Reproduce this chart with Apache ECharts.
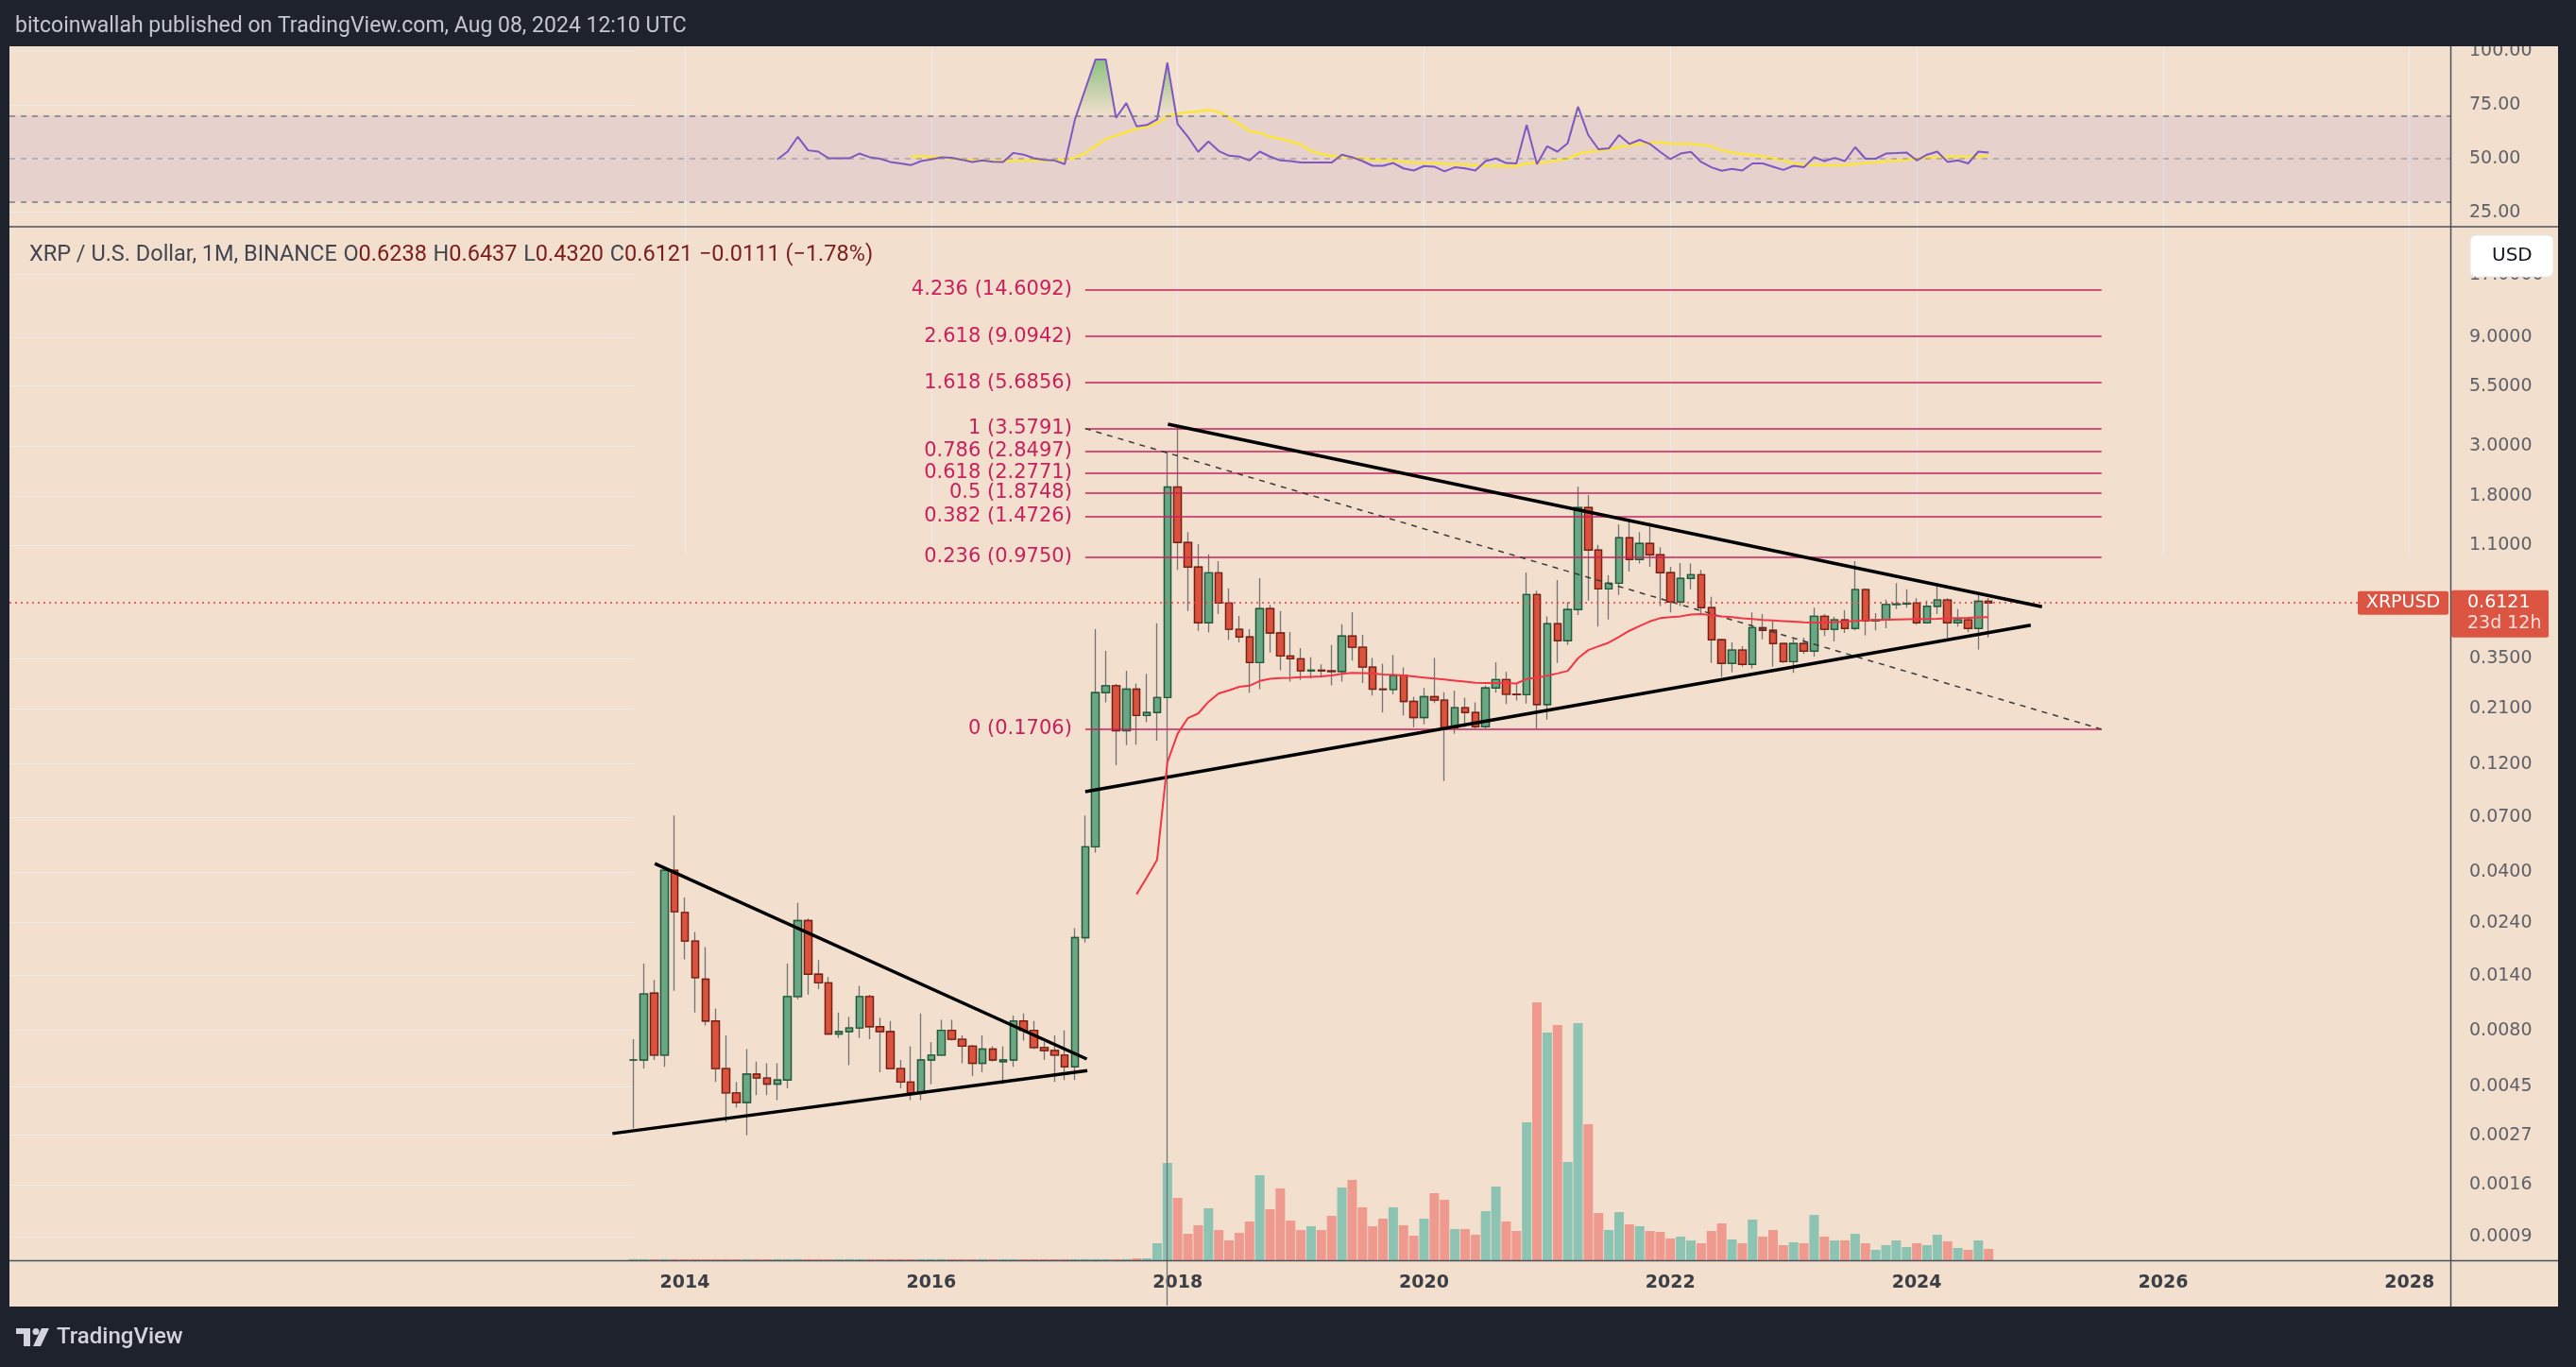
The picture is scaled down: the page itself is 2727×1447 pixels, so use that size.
<!DOCTYPE html>
<html>
<head>
<meta charset="utf-8">
<title>XRP / U.S. Dollar, 1M, BINANCE</title>
<script src="https://cdn.jsdelivr.net/npm/echarts@6/dist/echarts.min.js"></script>
<style>
  html, body { margin: 0; padding: 0; background: #1e222d; }
  #chart { width: 2727px; height: 1447px; }
</style>
</head>
<body>
<div id="chart"></div>
<script>
// XRPUSD monthly candles, Aug 2013 .. Aug 2024
const N13 = Array(5).fill(null);
const N12 = Array(12).fill(null);

const open = [
  0.0059, 0.0059, 0.0117, 0.0062, 0.0408,
  0.0266, 0.0199, 0.0135, 0.0088, 0.0054, 0.0042, 0.0038, 0.0051, 0.0049, 0.0046, 0.0048, 0.0113,
  0.0245, 0.0142, 0.0130, 0.0077, 0.0079, 0.0082, 0.0113, 0.0083, 0.0079, 0.0054, 0.0047, 0.0042,
  0.0059, 0.0062, 0.0080, 0.0073, 0.0068, 0.0057, 0.0066, 0.0058, 0.0059, 0.0088, 0.0080, 0.0067,
  0.0065, 0.0062, 0.0055, 0.0206, 0.0518, 0.247, 0.265, 0.168, 0.256, 0.196, 0.202, 0.235,
  1.98, 1.129, 0.881, 0.501, 0.831, 0.612, 0.469, 0.434, 0.335, 0.578, 0.452, 0.358,
  0.348, 0.308, 0.310, 0.308, 0.306, 0.438, 0.391, 0.320, 0.256, 0.255, 0.294, 0.226,
  0.192, 0.237, 0.229, 0.173, 0.212, 0.202, 0.175, 0.259, 0.282, 0.243, 0.242, 0.667,
  0.219, 0.496, 0.418, 0.573, 1.608, 1.046, 0.706, 0.748, 1.184, 0.951, 1.118, 0.997,
  0.832, 0.618, 0.785, 0.815, 0.584, 0.422, 0.332, 0.380, 0.329, 0.477, 0.464, 0.406,
  0.338, 0.406, 0.376, 0.535, 0.469, 0.516, 0.473, 0.701, 0.511, 0.516, 0.603, 0.606,
  0.612, 0.501, 0.592, 0.631, 0.501, 0.516, 0.473, 0.6238
];
const high = [
  0.0073, 0.0158, 0.0134, 0.0413, 0.0711,
  0.0310, 0.0218, 0.0187, 0.0100, 0.0076, 0.0047, 0.0066, 0.0058, 0.0057, 0.0057, 0.0158, 0.0293,
  0.0250, 0.0164, 0.0138, 0.0096, 0.0092, 0.0126, 0.0115, 0.0091, 0.0088, 0.0059, 0.0068, 0.0095,
  0.0071, 0.0089, 0.0089, 0.0076, 0.0069, 0.0076, 0.0068, 0.0068, 0.0093, 0.0095, 0.0088, 0.0071,
  0.0076, 0.0080, 0.0227, 0.0711, 0.470, 0.377, 0.270, 0.308, 0.271, 0.299, 0.499, 2.83,
  3.59, 1.254, 1.111, 1.003, 0.935, 0.711, 0.537, 0.470, 0.787, 0.601, 0.564, 0.456,
  0.388, 0.353, 0.329, 0.400, 0.494, 0.558, 0.444, 0.351, 0.331, 0.362, 0.319, 0.237,
  0.259, 0.351, 0.248, 0.252, 0.235, 0.224, 0.265, 0.336, 0.305, 0.272, 0.834, 0.693,
  0.535, 0.772, 0.618, 1.991, 1.826, 1.104, 0.811, 1.358, 1.434, 1.254, 1.380, 1.076,
  0.883, 0.918, 0.914, 0.856, 0.652, 0.427, 0.411, 0.395, 0.556, 0.547, 0.511, 0.408,
  0.431, 0.431, 0.584, 0.547, 0.532, 0.570, 0.935, 0.711, 0.553, 0.633, 0.748, 0.703,
  0.643, 0.627, 0.748, 0.643, 0.576, 0.532, 0.664, 0.6437
];
const low = [
  0.0029, 0.0054, 0.0059, 0.0055, 0.0120,
  0.0165, 0.0096, 0.0084, 0.0047, 0.0031, 0.0036, 0.0027, 0.0041, 0.0041, 0.0039, 0.0044, 0.0110,
  0.0115, 0.0122, 0.0077, 0.0074, 0.0056, 0.0074, 0.0073, 0.0052, 0.0054, 0.0044, 0.0039, 0.0039,
  0.0046, 0.0062, 0.0072, 0.0057, 0.0050, 0.0052, 0.0058, 0.0046, 0.0055, 0.0072, 0.0066, 0.0059,
  0.0047, 0.0048, 0.0048, 0.0196, 0.0488, 0.224, 0.1185, 0.145, 0.146, 0.183, 0.152, 0.0004,
  0.856, 0.565, 0.462, 0.455, 0.547, 0.422, 0.411, 0.247, 0.256, 0.371, 0.310, 0.276,
  0.281, 0.285, 0.290, 0.266, 0.276, 0.342, 0.272, 0.240, 0.202, 0.243, 0.196, 0.174,
  0.179, 0.222, 0.101, 0.163, 0.174, 0.172, 0.172, 0.247, 0.220, 0.228, 0.221, 0.171,
  0.188, 0.334, 0.400, 0.542, 0.628, 0.482, 0.518, 0.664, 0.842, 0.914, 0.883, 0.593,
  0.556, 0.593, 0.703, 0.547, 0.334, 0.290, 0.304, 0.322, 0.316, 0.424, 0.322, 0.334,
  0.302, 0.365, 0.356, 0.438, 0.415, 0.452, 0.464, 0.441, 0.464, 0.474, 0.576, 0.584,
  0.491, 0.499, 0.547, 0.431, 0.482, 0.456, 0.382, 0.4320
];
const close = [
  0.0059, 0.0116, 0.0062, 0.0408, 0.0268,
  0.0199, 0.0137, 0.0088, 0.0054, 0.0042, 0.0038, 0.0051, 0.0049, 0.0046, 0.0048, 0.0113, 0.0245,
  0.0142, 0.0130, 0.0077, 0.0079, 0.0082, 0.0113, 0.0083, 0.0079, 0.0054, 0.0047, 0.0042, 0.0059,
  0.0062, 0.0080, 0.0073, 0.0068, 0.0057, 0.0066, 0.0059, 0.0059, 0.0088, 0.0080, 0.0067, 0.0065,
  0.0062, 0.0055, 0.0206, 0.0518, 0.247, 0.265, 0.168, 0.256, 0.196, 0.202, 0.235, 1.98,
  1.129, 0.881, 0.501, 0.831, 0.612, 0.469, 0.434, 0.335, 0.578, 0.452, 0.358, 0.348,
  0.308, 0.310, 0.308, 0.306, 0.438, 0.391, 0.320, 0.256, 0.255, 0.294, 0.226, 0.192,
  0.237, 0.229, 0.173, 0.212, 0.202, 0.175, 0.259, 0.282, 0.243, 0.242, 0.667, 0.219,
  0.496, 0.418, 0.573, 1.608, 1.046, 0.706, 0.748, 1.184, 0.951, 1.118, 0.997, 0.832,
  0.618, 0.785, 0.815, 0.584, 0.422, 0.332, 0.380, 0.329, 0.477, 0.464, 0.406, 0.338,
  0.406, 0.376, 0.535, 0.469, 0.516, 0.473, 0.701, 0.511, 0.516, 0.603, 0.606, 0.610,
  0.501, 0.592, 0.631, 0.501, 0.516, 0.473, 0.6232, 0.6121
];
// volume overlay, relative units (1 unit = 1 px of pane height)
const volume = [
  1.2, 1.2, 1.2, 1.2, 1.2,
  1.2, 1.2, 1.2, 1.2, 1.2, 1.2, 1.2, 1.2, 1.2, 1.2, 1.2, 1.2,
  1.2, 1.2, 1.2, 1.2, 1.2, 1.2, 1.2, 1.2, 1.2, 1.2, 1.2, 1.2,
  1.2, 1.2, 1.2, 1.2, 1.2, 1.2, 1.2, 1.2, 1.2, 1.2, 1.2, 1.2,
  1.2, 1.2, 1.2, 1.2, 1.2, 1.2, 1.2, 1.2, 2, 2, 18, 103,
  66, 28, 37, 55, 32, 21, 29, 41, 90, 54, 76, 42,
  32, 36, 32, 47, 77, 85, 56, 36, 44, 56, 37, 26,
  44, 71, 64, 33, 33, 27, 52, 78, 41, 31, 146, 273,
  241, 249, 104, 251, 144, 50, 32, 51, 38, 36, 31, 30,
  23, 25, 21, 18, 31, 39, 22, 18, 43, 25, 32, 16,
  19, 18, 48, 25, 21, 21, 28, 18, 11, 16, 21, 14,
  18, 16, 27, 20, 13, 11, 21, 12
];
// red moving average on price
const ma = [
  ...N13, ...N12, ...N12, ...N12,
  null, null, null, null, null, null, null, null, 0.032, 0.038, 0.0455, 0.122,
  0.163, 0.191, 0.200, 0.225, 0.245, 0.253, 0.262, 0.265, 0.278, 0.284, 0.286, 0.287,
  0.289, 0.290, 0.291, 0.294, 0.299, 0.302, 0.301, 0.300, 0.297, 0.296, 0.294, 0.291,
  0.288, 0.285, 0.282, 0.279, 0.276, 0.273, 0.272, 0.272, 0.272, 0.271, 0.284, 0.287,
  0.293, 0.300, 0.308, 0.350, 0.380, 0.395, 0.410, 0.435, 0.462, 0.485, 0.508, 0.525,
  0.530, 0.535, 0.545, 0.547, 0.541, 0.534, 0.530, 0.524, 0.520, 0.516, 0.513, 0.510,
  0.507, 0.503, 0.502, 0.503, 0.505, 0.507, 0.511, 0.514, 0.516, 0.517, 0.518, 0.519,
  0.520, 0.521, 0.522, 0.524, 0.526, 0.527, 0.529, 0.530
];
const rsi = [
  ...N13,
  null, null, null, null, null, null, null, null, null, 49.6, 53.2, 60.1,
  53.8, 53.2, 50.1, 50.1, 50.1, 52.3, 50.6, 49.9, 48.4, 47.7, 46.9, 48.8,
  49.6, 50.6, 50.3, 49.4, 48.4, 49.1, 48.5, 48.4, 52.6, 51.8, 50.1, 49.4,
  49.1, 47.4, 68.2, 82.2, 96.1, 96.1, 68.9, 75.8, 65.0, 65.6, 68.2, 94.6,
  66.0, 60.1, 53.1, 57.9, 53.5, 51.3, 50.9, 49.1, 53.2, 50.9, 49.1, 48.8,
  48.1, 48.1, 48.1, 48.1, 51.8, 50.6, 48.8, 46.6, 46.6, 47.9, 45.4, 44.4,
  46.5, 46.2, 44.0, 45.9, 45.4, 44.4, 48.8, 50.0, 47.9, 47.7, 65.6, 47.4,
  55.7, 53.2, 57.2, 74.1, 60.9, 54.3, 54.7, 60.9, 56.8, 58.7, 56.8, 53.1,
  49.7, 52.3, 53.1, 48.4, 45.9, 44.3, 45.2, 44.4, 47.7, 47.7, 46.2, 44.7,
  46.6, 45.9, 50.6, 48.8, 50.3, 48.8, 55.3, 49.9, 49.9, 52.3, 52.5, 52.8,
  49.1, 51.8, 53.2, 48.4, 49.1, 47.7, 53.2, 52.8
];
const rsiMa = [
  ...N13, ...N12,
  null, null, null, null, null, null, null, null, null, null, 51.0, 51.0,
  50.8, 50.5, 50.0, 49.6, 49.1, 49.0, 48.8, 48.8, 49.0, 49.1, 49.1, 49.1,
  49.1, 49.6, 50.3, 52.5, 55.7, 59.1, 60.6, 62.3, 63.8, 64.8, 66.4, 69.7,
  70.9, 71.6, 71.9, 72.6, 71.7, 68.9, 66.0, 62.8, 61.9, 60.1, 59.1, 57.9,
  56.5, 53.5, 52.1, 51.2, 50.9, 50.4, 49.9, 49.4, 49.1, 49.0, 48.5, 48.1,
  47.9, 47.8, 47.5, 47.4, 47.2, 46.9, 46.6, 46.5, 46.5, 46.5, 47.7, 47.9,
  48.4, 49.1, 49.9, 52.1, 53.1, 53.5, 54.4, 55.3, 56.0, 56.8, 57.2, 57.6,
  56.9, 56.8, 56.8, 56.3, 55.7, 53.8, 52.8, 52.1, 51.6, 51.0, 50.1, 49.1,
  47.7, 47.2, 47.1, 46.9, 46.8, 46.8, 47.4, 47.9, 48.1, 48.7, 49.0, 49.4,
  50.0, 50.3, 50.6, 50.9, 50.9, 50.9, 51.0, 51.3
];

// axis ticks
const priceTicks = [0.0009, 0.0016, 0.0027, 0.0045, 0.008, 0.014, 0.024, 0.04, 0.07, 0.12,
  0.21, 0.35, 1.1, 1.8, 3.0, 5.5, 9.0, 17.0];
const rsiTicks = [25, 50, 75, 100];
const yearTicks = [2014, 2016, 2018, 2020, 2022, 2024, 2026, 2028];

// fibonacci retracement drawing
const fibLevels = [4.236, 2.618, 1.618, 1, 0.786, 0.618, 0.5, 0.382, 0.236, 0];
const fibPrices = [14.6092, 9.0942, 5.6856, 3.5791, 2.8497, 2.2771, 1.8748, 1.4726, 0.9750, 0.1706];
const fibSpan = [44, 143];            // month indices where the fib tool starts / ends

// hand-drawn trend lines: [monthIndex, price] pairs
const trendLines = [
  [[52.05, 3.742], [137.2, 0.5892]],
  [[44.0, 0.0906], [136.1, 0.4895]],
  [[2.07, 0.0437], [44.15, 0.00596]],
  [[-2.06, 0.00275], [44.2, 0.00529]]
];

const T = p => Math.log10(p + 0.0001);          // TradingView log price scale
const P = v => Math.pow(10, v) - 0.0001;
const monthIdx = (y, m) => (y - 2013) * 12 + (m - 8);

const BG = '#f2dfcd';
const GRID = 'rgba(236,236,240,0.75)';
const UP = '#6ba784', DN = '#d9533f';
const UP_B = '#1f5b3b', DN_B = '#7a1e12';
const WICK = '#737477';
const FIB = '#c9205e';
const TAG = '#dc5442';
const AXIS_TXT = '#5f6169';

// RSI pane geometry (px) used for the overbought gradient
const RSI_TOP = 49, RSI_H = 191, RSI_MIN = 18.26, RSI_MAX = 102.2;
const rsiY = v => RSI_TOP + (RSI_MAX - v) / (RSI_MAX - RSI_MIN) * RSI_H;

const n = close.length;
const candleFull = close.map((c, i) => [i, T(open[i]), T(c), T(low[i]), T(high[i])]);
const candleBody = close.map((c, i) => [i, T(open[i]), T(c), T(Math.min(open[i], c)), T(Math.max(open[i], c))]);
const volData = volume.map((v, i) => ({
  value: [i, v],
  itemStyle: { color: close[i] >= open[i] ? '#8dc3b3' : '#ef9a8e' }
}));
const pairs = arr => arr.map((v, i) => [i, v]).filter(d => d[1] != null);
const maData = pairs(ma.map(v => (v == null ? null : T(v))));
const rsiData = pairs(rsi);
const rsiMaData = pairs(rsiMa);
const obData = pairs(rsi.map(v => (v == null ? null : Math.max(v, 70))));

const yearIdx = yearTicks.map(y => monthIdx(y, 1));
const X_MIN = -60.8, X_MAX = 176.98;

const fibLines = fibLevels.map((lv, k) => [
  { coord: [fibSpan[0], T(fibPrices[k])], label: { formatter: lv + ' (' + fibPrices[k].toFixed(4) + ')' } },
  { coord: [fibSpan[1], T(fibPrices[k])] }
]);
const fibDiag = [
  { coord: [fibSpan[0], T(fibPrices[3])], lineStyle: { type: [6, 6], color: '#3a3a3a', width: 1.5 }, label: { show: false } },
  { coord: [fibSpan[1], T(fibPrices[9])] }
];

const chart = echarts.init(document.getElementById('chart'));

const option = {
  animation: false,
  backgroundColor: BG,
  textStyle: { fontFamily: 'DejaVu Sans' },
  grid: [
    { left: 10, right: 133, top: RSI_TOP, height: RSI_H },
    { left: 10, right: 133, top: 240, height: 1094 }
  ],
  xAxis: [
    {
      gridIndex: 1, type: 'value', min: X_MIN, max: X_MAX,
      axisLine: { show: false }, splitLine: { show: false },
      axisTick: { show: true, inside: true, length: 1094, customValues: yearIdx, lineStyle: { color: GRID, width: 1 } },
      axisLabel: {
        customValues: yearIdx, margin: 15,
        formatter: v => String(2013 + Math.floor((Math.round(v) + 7) / 12)),
        color: '#3c3e46', fontFamily: 'DejaVu Sans', fontWeight: 'bold', fontSize: 19
      }
    },
    {
      gridIndex: 0, type: 'value', min: X_MIN, max: X_MAX,
      axisLine: { show: false }, splitLine: { show: false }, axisLabel: { show: false },
      axisTick: { show: true, inside: true, length: RSI_H, customValues: yearIdx, lineStyle: { color: GRID, width: 1 } }
    }
  ],
  yAxis: [
    {
      gridIndex: 1, type: 'value', position: 'right', min: -3.1022, max: 1.4410,
      axisLine: { show: false }, splitLine: { show: false },
      axisTick: { show: true, inside: true, length: 2584, customValues: priceTicks.map(T), lineStyle: { color: GRID, width: 1 } },
      axisLabel: {
        customValues: priceTicks.map(T), margin: 20,
        formatter: v => P(v).toFixed(4),
        color: AXIS_TXT, fontFamily: 'DejaVu Sans', fontSize: 19
      }
    },
    { gridIndex: 1, type: 'value', min: 0, max: 1094, show: false },
    {
      gridIndex: 0, type: 'value', position: 'right', min: RSI_MIN, max: RSI_MAX,
      axisLine: { show: false }, splitLine: { show: false },
      axisTick: { show: true, inside: true, length: 2584, customValues: rsiTicks, lineStyle: { color: GRID, width: 1 } },
      axisLabel: {
        customValues: rsiTicks, margin: 20,
        formatter: v => v.toFixed(2),
        color: AXIS_TXT, fontFamily: 'DejaVu Sans', fontSize: 19
      }
    }
  ],
  series: [
    {
      name: 'Volume', type: 'bar', xAxisIndex: 0, yAxisIndex: 1,
      barWidth: 10, data: volData, z: 1, silent: true
    },
    {
      name: 'Fib', type: 'line', xAxisIndex: 0, yAxisIndex: 0, data: [], z: 2,
      markLine: {
        silent: true, symbol: 'none',
        lineStyle: { color: FIB, width: 1.5, type: 'solid' },
        label: { show: true, position: 'start', distance: 14, color: FIB, fontSize: 21, fontFamily: 'DejaVu Sans' },
        data: fibLines.concat([fibDiag])
      }
    },
    {
      name: 'Wicks', type: 'candlestick', xAxisIndex: 0, yAxisIndex: 0,
      encode: { x: 0, y: [1, 2, 3, 4] }, data: candleFull, barWidth: 8, z: 3, clip: true,
      itemStyle: { color: UP, color0: DN, borderColor: WICK, borderColor0: WICK, borderColorDoji: WICK, borderWidth: 1.3 }
    },
    {
      name: 'XRPUSD', type: 'candlestick', xAxisIndex: 0, yAxisIndex: 0,
      encode: { x: 0, y: [1, 2, 3, 4] }, data: candleBody, barWidth: 8, z: 4, clip: true,
      itemStyle: { color: UP, color0: DN, borderColor: UP_B, borderColor0: DN_B, borderColorDoji: UP_B, borderWidth: 1.4 }
    },
    {
      name: 'MA', type: 'line', xAxisIndex: 0, yAxisIndex: 0, data: maData, z: 5,
      showSymbol: false, lineStyle: { color: '#f23645', width: 2 },
      markLine: {
        silent: true, symbol: 'none', label: { show: false },
        lineStyle: { color: '#f23645', type: [2, 4], width: 1.5 },
        data: [{ yAxis: T(close[n - 1]) }]
      }
    },
    {
      name: 'Trend', type: 'line', xAxisIndex: 0, yAxisIndex: 0, data: [], z: 6,
      markLine: {
        silent: true, symbol: 'none', label: { show: false },
        lineStyle: { color: '#000000', width: 3.5, type: 'solid' },
        data: trendLines.map(l => [{ coord: [l[0][0], T(l[0][1])] }, { coord: [l[1][0], T(l[1][1])] }])
      }
    },
    {
      // overbought fill: area under max(RSI, 70); gradient is transparent below the 70 line
      name: 'OB', type: 'line', xAxisIndex: 1, yAxisIndex: 2, data: obData,
      showSymbol: false, lineStyle: { opacity: 0 }, z: 2, silent: true,
      areaStyle: {
        origin: 'start',
        color: new echarts.graphic.LinearGradient(0, rsiY(100), 0, rsiY(70), [
          { offset: 0, color: 'rgba(67,170,72,0.95)' },
          { offset: 1, color: 'rgba(67,170,72,0)' }
        ], true)
      }
    },
    {
      name: 'RSI MA', type: 'line', xAxisIndex: 1, yAxisIndex: 2, data: rsiMaData, z: 3,
      showSymbol: false, lineStyle: { color: '#fbe53b', width: 2.5 }
    },
    {
      name: 'RSI', type: 'line', xAxisIndex: 1, yAxisIndex: 2, data: rsiData, z: 4,
      showSymbol: false, lineStyle: { color: '#7e57c2', width: 2 },
      markArea: { silent: true, itemStyle: { color: 'rgba(126,87,194,0.1)' }, data: [[{ yAxis: 30 }, { yAxis: 70 }]] },
      markLine: {
        silent: true, symbol: 'none', label: { show: false },
        lineStyle: { color: '#787b86', type: [6, 6], width: 1.5 },
        data: [{ yAxis: 70 }, { yAxis: 50, lineStyle: { color: 'rgba(120,123,134,0.55)' } }, { yAxis: 30 }]
      }
    }
  ]
};

chart.setOption(option);

// frame, captions and price tags
function decor(yPx) {
  const DARK = '#1e222d', SEP = '#4c505b';
  const last = close[n - 1];
  return [
    { type: 'rect', z: 100, shape: { x: 0, y: 0, width: 2727, height: 49 }, style: { fill: DARK } },
    { type: 'rect', z: 100, shape: { x: 0, y: 0, width: 10, height: 1447 }, style: { fill: DARK } },
    { type: 'rect', z: 100, shape: { x: 2708, y: 0, width: 19, height: 1447 }, style: { fill: DARK } },
    { type: 'rect', z: 100, shape: { x: 0, y: 1383, width: 2727, height: 64 }, style: { fill: DARK } },
    { type: 'line', z: 100, shape: { x1: 10, y1: 240, x2: 2708, y2: 240 }, style: { stroke: SEP, lineWidth: 1.5 } },
    { type: 'line', z: 100, shape: { x1: 10, y1: 1334.5, x2: 2708, y2: 1334.5 }, style: { stroke: SEP, lineWidth: 1.5 } },
    { type: 'line', z: 100, shape: { x1: 2594.5, y1: 49, x2: 2594.5, y2: 1383 }, style: { stroke: SEP, lineWidth: 1.5 } },
    {
      type: 'text', z: 101, x: 16, y: 28,
      style: { text: 'bitcoinwallah published on TradingView.com, Aug 08, 2024 12:10 UTC',
        fill: '#c4c7cf', font: '23px Roboto', verticalAlign: 'middle' }
    },
    {
      type: 'text', z: 101, x: 31, y: 270,
      style: {
        text: '{t|XRP / U.S. Dollar, 1M, BINANCE}  {k|O}{v|' + open[n - 1].toFixed(4) + '}  {k|H}{v|' + high[n - 1].toFixed(4) +
          '}  {k|L}{v|' + low[n - 1].toFixed(4) + '}  {k|C}{v|' + last.toFixed(4) + '}  {v|\u22120.0111 (\u22121.78%)}',
        verticalAlign: 'middle',
        rich: {
          t: { fill: '#434651', font: '23.5px Roboto' },
          k: { fill: '#434651', font: '23.5px Roboto' },
          v: { fill: '#7a1c1c', font: '23.5px Roboto' }
        }
      }
    },
    { type: 'rect', z: 101, shape: { x: 2615, y: 249, width: 88, height: 44, r: 6 }, style: { fill: '#ffffff', stroke: '#e6e6e6', lineWidth: 1 } },
    { type: 'text', z: 102, x: 2638, y: 271, style: { text: 'USD', fill: '#131722', font: '20px DejaVu Sans', verticalAlign: 'middle' } },
    { type: 'rect', z: 101, shape: { x: 2496, y: yPx - 12.5, width: 96, height: 25, r: 2 }, style: { fill: TAG } },
    { type: 'text', z: 102, x: 2544, y: yPx, style: { text: 'XRPUSD', fill: '#ffffff', font: '19px DejaVu Sans', align: 'center', verticalAlign: 'middle' } },
    { type: 'rect', z: 101, shape: { x: 2595, y: yPx - 13.5, width: 103, height: 50, r: 2 }, style: { fill: TAG } },
    { type: 'text', z: 102, x: 2612, y: yPx, style: { text: last.toFixed(4), fill: '#ffffff', font: '19px DejaVu Sans', verticalAlign: 'middle' } },
    { type: 'text', z: 102, x: 2612, y: yPx + 22, style: { text: '23d 12h', fill: '#fbe0da', font: '19px DejaVu Sans', verticalAlign: 'middle' } },
    { type: 'rect', z: 101, shape: { x: 17, y: 1406, width: 15, height: 6 }, style: { fill: '#d1d4dc' } },
    { type: 'rect', z: 101, shape: { x: 25, y: 1406, width: 7, height: 19 }, style: { fill: '#d1d4dc' } },
    { type: 'circle', z: 101, shape: { cx: 38, cy: 1409.5, r: 3.5 }, style: { fill: '#d1d4dc' } },
    { type: 'polygon', z: 101, shape: { points: [[35, 1425], [44, 1406], [52, 1406], [43, 1425]] }, style: { fill: '#d1d4dc' } },
    { type: 'text', z: 101, x: 60, y: 1416, style: { text: 'TradingView', fill: '#d1d4dc', font: '500 24px Roboto', verticalAlign: 'middle' } }
  ];
}

const yPx = chart.convertToPixel({ yAxisIndex: 0 }, T(close[n - 1]));
chart.setOption({ graphic: { elements: decor(yPx) } });
</script>
</body>
</html>
